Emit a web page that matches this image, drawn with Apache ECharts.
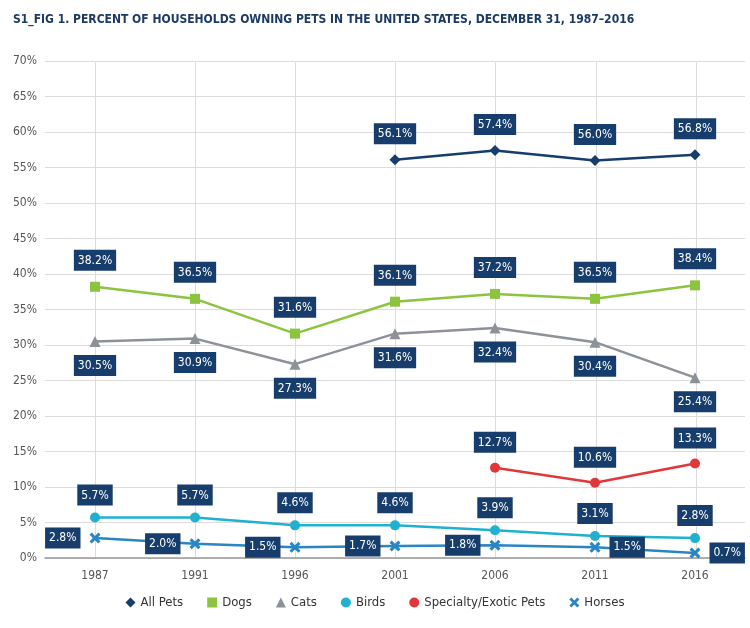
<!DOCTYPE html>
<html><head><meta charset="utf-8">
<script src="https://cdn.jsdelivr.net/npm/echarts@6/dist/echarts.min.js"></script>
<style>html,body{margin:0;padding:0;background:#fff}#c{width:750px;height:628px}</style>
</head><body><div id="c"></div>
<script>
const years = ['1987','1991','1996','2001','2006','2011','2016'];
const allPets = [null, null, null, 56.1, 57.4, 56.0, 56.8];
const dogs = [38.2, 36.5, 31.6, 36.1, 37.2, 36.5, 38.4];
const cats = [30.5, 30.9, 27.3, 31.6, 32.4, 30.4, 25.4];
const birds = [5.7, 5.7, 4.6, 4.6, 3.9, 3.1, 2.8];
const exotic = [null, null, null, null, 12.7, 10.6, 13.3];
const horses = [2.8, 2.0, 1.5, 1.7, 1.8, 1.5, 0.7];

const FONT = "'DejaVu Sans Condensed', Roboto, sans-serif";
const NAVY = '#163d6b';
const xPath = 'path://M0,2 L2,0 L5,3 L8,0 L10,2 L7,5 L10,8 L8,10 L5,7 L2,10 L0,8 L3,5 Z';

function lbl(pos, dist) {
  return {show: true, position: pos, distance: dist, formatter: p => p.value == null ? '' : p.value.toFixed(1) + '%',
    backgroundColor: NAVY, color: '#fff', padding: [5, 4, 4, 4], fontFamily: FONT, fontSize: 12};
}
function ser(name, data, color, symbol, size, pos, dist) {
  return {name, type: 'line', data, xAxisIndex: 0, yAxisIndex: 0, symbol, symbolSize: size,
    lineStyle: {color, width: 2.5}, itemStyle: {color}, label: lbl(pos, dist), z: 3, connectNulls: false, animation: false};
}
const horsesData = horses.map((v, i) => ({value: v, label: {position: i >= 5 ? 'right' : 'left'}}));

const chart = echarts.init(document.getElementById('c'));
chart.setOption({
  animation: false,
  title: {text: 'S1_FIG 1. PERCENT OF HOUSEHOLDS OWNING PETS IN THE UNITED STATES, DECEMBER 31, 1987–2016',
    left: 8, top: 9, textStyle: {fontFamily: FONT, fontWeight: 'bold', fontSize: 12, color: '#1d3a62'}},
  legend: {bottom: 14, left: 'center', itemWidth: 10, itemHeight: 10, itemGap: 24,
    textStyle: {fontFamily: FONT, fontSize: 13, color: '#333'},
    data: [
      {name: 'All Pets', icon: 'diamond'},
      {name: 'Dogs', icon: 'rect'},
      {name: 'Cats', icon: 'triangle'},
      {name: 'Birds', icon: 'circle'},
      {name: 'Specialty/Exotic Pets', icon: 'circle'},
      {name: 'Horses', icon: xPath}
    ]},
  grid: [
    {left: 45, right: 5, top: 61, bottom: 70},
    {left: 95, right: 54, top: 61, bottom: 70}
  ],
  xAxis: [
    {type: 'category', gridIndex: 0, data: years, boundaryGap: true,
      axisLine: {lineStyle: {color: '#999', width: 1.5}}, axisTick: {show: false},
      axisLabel: {fontFamily: FONT, fontSize: 12, color: '#555', margin: 12}, splitLine: {show: false}},
    {type: 'category', gridIndex: 1, data: years, boundaryGap: false,
      axisLine: {show: false}, axisTick: {show: false}, axisLabel: {show: false},
      splitLine: {show: true, lineStyle: {color: '#dcdcdc', width: 1}}}
  ],
  yAxis: [
    {type: 'value', gridIndex: 0, min: 0, max: 70, interval: 5,
      axisLine: {show: false}, axisTick: {show: false},
      axisLabel: {formatter: '{value}%', fontFamily: FONT, fontSize: 12, color: '#555', margin: 8},
      splitLine: {lineStyle: {color: '#dcdcdc', width: 1}}},
    {type: 'value', gridIndex: 1, min: 0, max: 70, interval: 5, show: false}
  ],
  series: [
    ser('All Pets', allPets, NAVY, 'diamond', 11, 'top', 10),
    ser('Dogs', dogs, '#8cc43f', 'rect', 10, 'top', 11),
    ser('Cats', cats, '#8d9299', 'triangle', 11, 'bottom', 8),
    ser('Birds', birds, '#1fb1cf', 'circle', 10, 'top', 7),
    ser('Specialty/Exotic Pets', exotic, '#e2373a', 'circle', 10, 'top', 10),
    ser('Horses', horsesData, '#2a85c4', xPath, 11, 'left', 9)
  ]
});
</script></body></html>
